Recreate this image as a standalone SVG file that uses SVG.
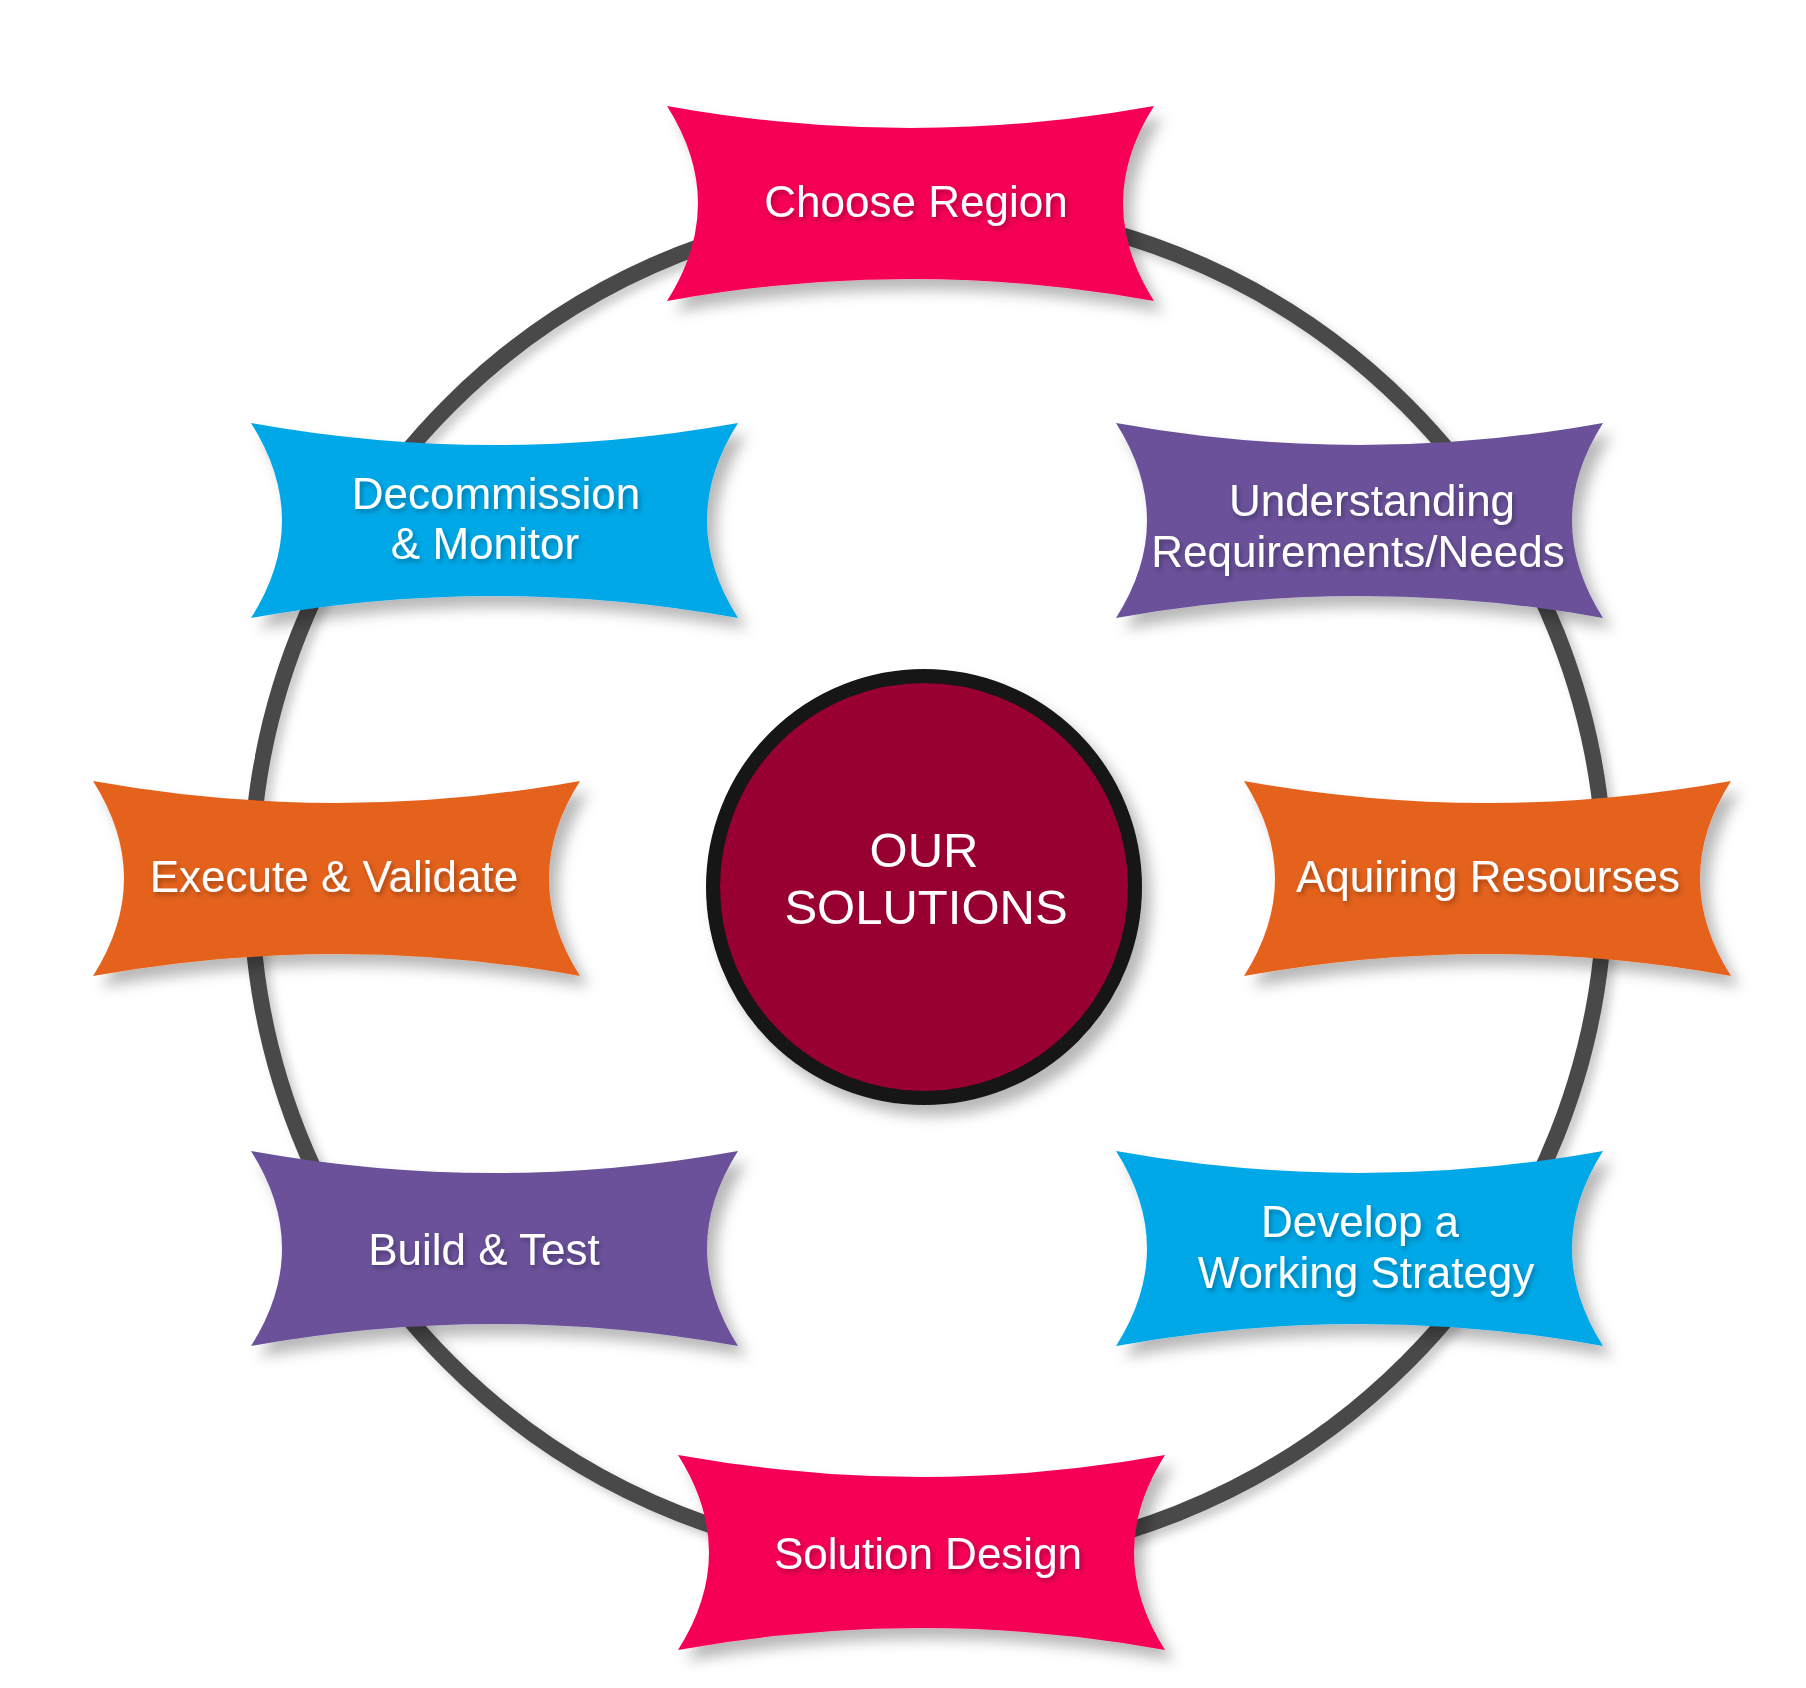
<svg xmlns="http://www.w3.org/2000/svg" width="1806" height="1688" viewBox="0 0 1806 1688">
<defs>
<filter id="shadow" x="-20%" y="-20%" width="150%" height="160%">
<feDropShadow dx="9" dy="11" stdDeviation="7" flood-color="#000" flood-opacity="0.28"/>
</filter>
<filter id="ringShadow" x="-10%" y="-10%" width="120%" height="120%">
<feDropShadow dx="6" dy="6" stdDeviation="5" flood-color="#000" flood-opacity="0.2"/>
</filter>
<filter id="txt" x="-10%" y="-30%" width="120%" height="160%">
<feDropShadow dx="2" dy="3" stdDeviation="2.5" flood-color="#000" flood-opacity="0.3"/>
</filter>
<path id="box" d="M0,0 Q243.5,44 487,0 Q425,97.5 487,195 Q243.5,151 0,195 Q62,97.5 0,0 Z"/>
</defs>
<style>
.lbl{font-family:"Liberation Sans",Arial,sans-serif;font-size:44px;fill:#fff;text-anchor:middle;filter:url(#txt)}
.mag{fill:#F50057}
.pur{fill:#6A519A}
.org{fill:#E5621D}
.blu{fill:#00A8E8}
</style>
<rect width="1806" height="1688" fill="#fff"/>
<g id="connectors">
<circle cx="928" cy="884" r="677" fill="none" stroke="#4A4A4A" stroke-width="16" filter="url(#ringShadow)"/>
</g>
<g id="center">
<circle cx="924" cy="887" r="211" fill="#990033" stroke="#141414" stroke-width="14" filter="url(#shadow)"/>
<text x="924" y="867" font-family="Liberation Sans, Arial, sans-serif" font-size="49" fill="#fff" text-anchor="middle">OUR</text>
<text x="926" y="924" font-family="Liberation Sans, Arial, sans-serif" font-size="49" fill="#fff" text-anchor="middle">SOLUTIONS</text>
</g>
<g id="choose-region">
<use href="#box" x="667" y="106" class="mag" filter="url(#shadow)"/>
<text class="lbl" x="916" y="217">Choose Region</text>
</g>
<g id="understanding">
<use href="#box" x="1116" y="423" class="pur" filter="url(#shadow)"/>
<text class="lbl" x="1372" y="516">Understanding</text>
<text class="lbl" x="1358" y="567">Requirements/Needs</text>
</g>
<g id="aquiring">
<use href="#box" x="1244" y="781" class="org" filter="url(#shadow)"/>
<text class="lbl" x="1488" y="892">Aquiring Resourses</text>
</g>
<g id="develop">
<use href="#box" x="1116" y="1151" class="blu" filter="url(#shadow)"/>
<text class="lbl" x="1360" y="1237">Develop a</text>
<text class="lbl" x="1366" y="1288">Working Strategy</text>
</g>
<g id="solution-design">
<use href="#box" x="678" y="1455" class="mag" filter="url(#shadow)"/>
<text class="lbl" x="928" y="1569">Solution Design</text>
</g>
<g id="build-test">
<use href="#box" x="251" y="1151" class="pur" filter="url(#shadow)"/>
<text class="lbl" x="484" y="1265">Build &amp; Test</text>
</g>
<g id="execute-validate">
<use href="#box" x="93" y="781" class="org" filter="url(#shadow)"/>
<text class="lbl" x="334" y="892">Execute &amp; Validate</text>
</g>
<g id="decommission">
<use href="#box" x="251" y="423" class="blu" filter="url(#shadow)"/>
<text class="lbl" x="496" y="509">Decommission</text>
<text class="lbl" x="485" y="559">&amp; Monitor</text>
</g>
</svg>
